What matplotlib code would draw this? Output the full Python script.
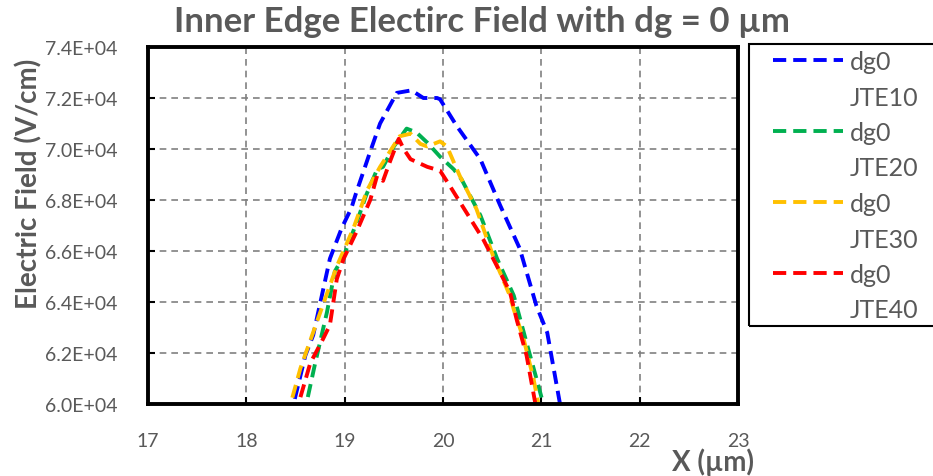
import matplotlib.pyplot as plt
from matplotlib.lines import Line2D
from matplotlib.patches import Rectangle
from matplotlib.ticker import FuncFormatter

plt.rcParams['font.family'] = ['Lato', 'DejaVu Sans']

# Data (x in um, field in V/cm)
x_jte10 = [18.40, 18.48, 18.60, 18.68, 18.85, 18.97, 19.07, 19.11, 19.26, 19.36, 19.53, 19.68,
           19.80, 19.94, 19.97, 20.14, 20.38, 20.58, 20.78, 20.95, 21.06, 21.19, 21.25]
e_jte10 = [59500, 60000, 61900, 62700, 65700, 66900, 67700, 68200, 69900, 71000, 72200, 72300,
           72000, 72000, 71950, 70900, 69600, 67800, 66100, 63850, 62800, 60000, 59500]

x_jte20 = [18.58, 18.61, 18.70, 18.82, 18.90, 18.99, 19.12, 19.22, 19.33, 19.39, 19.50, 19.63,
           19.73, 19.84, 19.97, 20.11, 20.19, 20.38, 20.55, 20.72, 20.85, 20.95, 21.02, 21.05]
e_jte20 = [59500, 60000, 61600, 63600, 65200, 65800, 67100, 68200, 69200, 69300, 70100, 70800,
           70650, 70250, 69700, 69200, 68800, 67400, 65700, 64250, 62400, 61000, 60000, 59500]

x_jte30 = [18.40, 18.45, 18.55, 18.78, 18.92, 19.09, 19.23, 19.36, 19.46, 19.56, 19.67, 19.77,
           19.84, 19.97, 20.04, 20.17, 20.34, 20.51, 20.68, 20.72, 20.82, 20.92, 20.97, 21.00]
e_jte30 = [59500, 60000, 61400, 63900, 65400, 66900, 68400, 69300, 69900, 70500, 70600, 70200,
           70100, 70300, 70100, 68950, 67650, 65800, 64250, 63700, 62550, 61000, 60000, 59500]

x_jte40 = [18.50, 18.53, 18.65, 18.78, 18.85, 18.92, 18.99, 19.12, 19.26, 19.33, 19.39, 19.46,
           19.55, 19.60, 19.67, 19.84, 19.97, 20.07, 20.24, 20.41, 20.55, 20.68, 20.75, 20.85,
           20.94, 20.97]
e_jte40 = [59500, 60000, 61600, 62550, 63100, 64900, 65700, 66750, 68000, 68950, 68750, 69500,
           70400, 70000, 69600, 69300, 69150, 68550, 67500, 66450, 65400, 64400, 63300, 61900,
           60000, 59500]

series = [
    (x_jte10, e_jte10, 'JTE10', '#0000FF'),
    (x_jte20, e_jte20, 'JTE20', '#00B050'),
    (x_jte30, e_jte30, 'JTE30', '#FFC000'),
    (x_jte40, e_jte40, 'JTE40', '#FF0000'),
]

x_ticks = [17, 18, 19, 20, 21, 22, 23]
y_ticks = [60000, 62000, 64000, 66000, 68000, 70000, 72000, 74000]

gray = '#595959'
dash = (0, (3.4, 1.8))

fig = plt.figure(figsize=(9.33, 4.77), dpi=100)
ax = fig.add_axes([148 / 933, 1 - 405 / 477, (738 - 148) / 933, (405 - 48) / 477])

handles, labels = [], []
for xs, es, name, color in series:
    line, = ax.plot(xs, es, linestyle=dash, color=color, linewidth=2.8)
    # Excel-style wrapped legend label: "dg0" next to the line, series name below
    handles += [line, Line2D([], [], color='none')]
    labels += ['dg0', name]

ax.set_xlim(17, 23)
ax.set_ylim(60000, 74000)
ax.set_xticks(x_ticks)
ax.set_yticks(y_ticks)
ax.yaxis.set_major_formatter(FuncFormatter(lambda v, p: f'{v:.1E}'))
ax.grid(True, color='#808080', linestyle=(0, (4, 3)), linewidth=1.2)
ax.set_axisbelow(True)

for side in ['left', 'right', 'top', 'bottom']:
    ax.spines[side].set_color('black')
    ax.spines[side].set_linewidth(2.8)

ax.tick_params(axis='x', direction='in', length=5, width=1.5, colors='black',
               labelcolor=gray, labelsize=14, pad=20)
ax.tick_params(axis='y', direction='in', length=5, width=1.5, colors='black',
               labelcolor=gray, labelsize=14, pad=22)

fig.text(0.517, 0.953, 'Inner Edge Electirc Field with dg = 0 µm', ha='center', va='center',
         fontsize=25, fontweight='bold', color=gray)
fig.text(0.764, 0.030, 'X (µm)', ha='center', va='center',
         fontsize=20, fontweight='bold', color=gray)
fig.text(0.031, 0.615, 'Electric Field (V/cm)', ha='center', va='center', rotation=90,
         fontsize=20, fontweight='bold', color=gray)

# legend box runs off the right edge of the figure, as in the original
fig.patches.append(Rectangle((749 / 933, 1 - 327 / 477), 200 / 933, (327 - 45) / 477,
                             transform=fig.transFigure, fill=False, edgecolor='black',
                             linewidth=1.5))
leg = fig.legend(handles, labels, loc='upper left', bbox_to_anchor=(773 / 933, 1 - 51 / 477),
                 fontsize=18, frameon=False, handlelength=2.8, labelspacing=0.5,
                 borderpad=0, handletextpad=0.28, borderaxespad=0)
for t in leg.get_texts():
    t.set_color(gray)

fig.savefig('out.png', dpi=100)
